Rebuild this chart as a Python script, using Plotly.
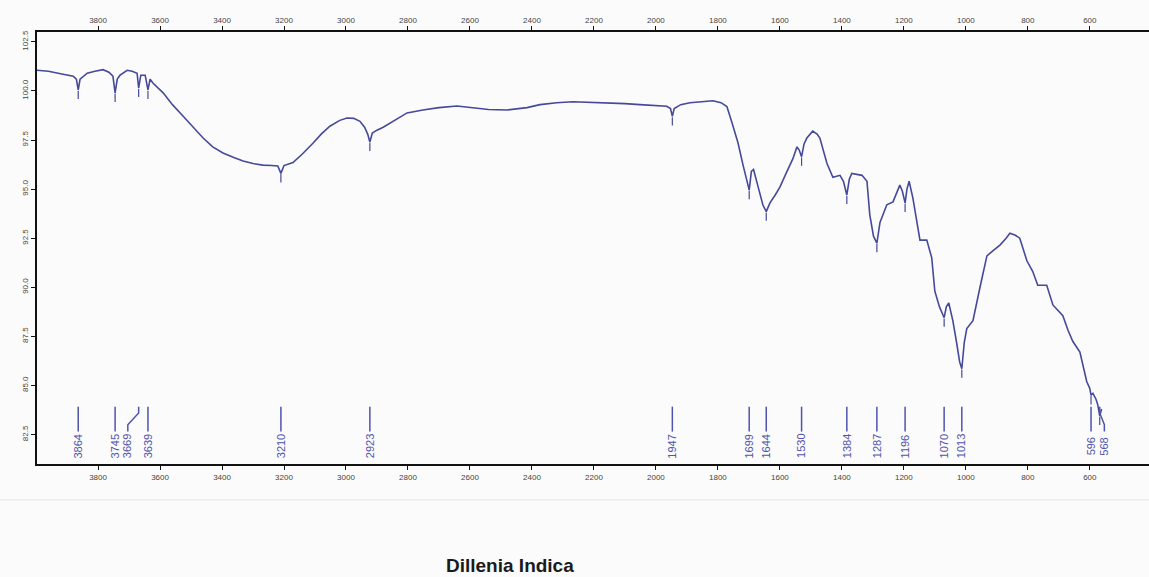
import numpy as np
import plotly.graph_objects as go

# ---------------- data ----------------
wavenumber = [3997, 3960, 3913, 3880, 3870, 3864, 3858, 3835, 3810, 3784, 3765, 3752, 3745, 3738,
              3729, 3706, 3690, 3674, 3669, 3662, 3648, 3639, 3632, 3623, 3590, 3560, 3526, 3490,
              3461, 3430, 3397, 3360, 3332, 3300, 3268, 3240, 3220, 3210, 3200, 3171, 3140, 3106,
              3080, 3052, 3020, 2997, 2975, 2955, 2940, 2930, 2923, 2915, 2900, 2880, 2858, 2830,
              2803, 2752, 2700, 2642, 2590, 2540, 2481, 2440, 2416, 2374, 2320, 2268, 2210, 2158,
              2100, 2052, 2000, 1965, 1953, 1947, 1941, 1920, 1890, 1850, 1816, 1790, 1771, 1755,
              1735, 1720, 1710, 1699, 1692, 1685, 1670, 1655, 1644, 1632, 1615, 1600, 1580, 1558,
              1545, 1538, 1530, 1522, 1513, 1494, 1480, 1471, 1448, 1429, 1406, 1395, 1384, 1376,
              1368, 1335, 1319, 1310, 1298, 1287, 1277, 1255, 1235, 1213, 1205, 1196, 1190, 1183,
              1171, 1160, 1148, 1126, 1110, 1100, 1085, 1070, 1063, 1055, 1042, 1030, 1020, 1013,
              1005, 997, 977, 955, 932, 913, 890, 870, 858, 840, 826, 803, 784, 768, 739, 719, 700,
              687, 670, 655, 632, 610, 600, 596, 590, 580, 574, 568, 562]
transmittance = [101.05, 101.0, 100.85, 100.75, 100.6, 100.05, 100.6, 100.9, 101.0, 101.08, 100.95,
                 100.75, 99.9, 100.6, 100.8, 101.05, 101.0, 100.9, 100.15, 100.8, 100.8, 100.05,
                 100.6, 100.4, 99.9, 99.3, 98.72, 98.1, 97.6, 97.15, 96.84, 96.6, 96.43, 96.3,
                 96.22, 96.2, 96.18, 95.8, 96.2, 96.35, 96.8, 97.35, 97.8, 98.2, 98.5, 98.62, 98.6,
                 98.45, 98.15, 97.8, 97.4, 97.85, 98.0, 98.15, 98.37, 98.65, 98.88, 99.03, 99.15,
                 99.23, 99.13, 99.05, 99.03, 99.1, 99.15, 99.3, 99.4, 99.45, 99.42, 99.4, 99.35,
                 99.3, 99.25, 99.22, 99.1, 98.7, 99.1, 99.3, 99.4, 99.45, 99.5, 99.4, 99.2, 98.4,
                 97.35, 96.3, 95.6, 94.95, 95.9, 96.0, 95.1, 94.2, 93.85, 94.3, 94.7, 95.1, 95.8,
                 96.55, 97.15, 97.0, 96.65, 97.3, 97.6, 97.95, 97.8, 97.6, 96.3, 95.6, 95.7, 95.4,
                 94.7, 95.5, 95.8, 95.7, 95.4, 93.7, 92.6, 92.25, 93.3, 94.2, 94.35, 95.2, 94.9,
                 94.3, 95.0, 95.4, 94.55, 93.4, 92.4, 92.4, 91.5, 89.8, 89.0, 88.45, 89.0, 89.2,
                 88.3, 87.2, 86.2, 85.85, 87.2, 87.9, 88.3, 89.95, 91.6, 91.85, 92.15, 92.5, 92.75,
                 92.65, 92.5, 91.35, 90.8, 90.1, 90.1, 89.1, 88.75, 88.55, 87.8, 87.25, 86.7, 85.2,
                 84.85, 84.5, 84.6, 84.3, 84.0, 83.45, 83.8]

peaks = [3864, 3745, 3669, 3639, 3210, 2923, 1947, 1699, 1644, 1530, 1384, 1287, 1196, 1070,
         1013, 596, 568]
peak_labels = [str(p) for p in peaks]

x_ticks = list(range(400, 4000, 200))
y_ticks = [82.5, 85.0, 87.5, 90.0, 92.5, 95.0, 97.5, 100.0, 102.5]

title_text = "Dillenia Indica"

# ---------------- styling ----------------
LINE = "#45499a"
LABEL = "#4f53ad"
X_RANGE = [3997, 409]
Y_RANGE = [81.0, 103.0]
label_shift = {3669: 35, 568: -15}   # label offsets (cm-1) for crowded labels

fig = go.Figure()

# spectrum
fig.add_trace(go.Scatter(x=wavenumber, y=transmittance, mode="lines",
                         line=dict(color=LINE, width=1.6), hoverinfo="skip", showlegend=False))

# small dip tick marks on the curve
wn_inc = np.array(wavenumber[::-1], dtype=float)
t_inc = np.array(transmittance[::-1], dtype=float)
dip_y = [float(np.interp(p, wn_inc, t_inc)) - 0.25 for p in peaks]
fig.add_trace(go.Scatter(x=peaks, y=dip_y, mode="markers",
                         marker=dict(symbol="line-ns-open", size=6, color=LINE,
                                     line=dict(color=LINE, width=1.2)),
                         hoverinfo="skip", showlegend=False))

# peak connector lines at the bottom
cx, cy = [], []
for p in peaks:
    s = label_shift.get(p, 0)
    if s:
        cx += [p, p, p + s, p + s, None]
        cy += [83.92, 83.6, 83.0, 82.65, None]
    else:
        cx += [p, p, None]
        cy += [83.92, 82.65, None]
fig.add_trace(go.Scatter(x=cx, y=cy, mode="lines", line=dict(color=LABEL, width=1.5),
                         hoverinfo="skip", showlegend=False))

# dummy trace for top axis
fig.add_trace(go.Scatter(x=[wavenumber[0]], y=[transmittance[0]], xaxis="x2", mode="markers",
                         marker=dict(opacity=0), hoverinfo="skip", showlegend=False))

annotations = []
for p, lab in zip(peaks, peak_labels):
    annotations.append(dict(x=p + label_shift.get(p, 0), y=81.9, xref="x", yref="y",
                            text=lab, textangle=-90, showarrow=False,
                            xanchor="center", yanchor="middle",
                            font=dict(family="Liberation Sans Narrow, Liberation Sans, Arial",
                                      size=11, color=LABEL)))
annotations.append(dict(x=0.425, y=-0.234, xref="paper", yref="paper",
                        text="<b>" + title_text + "</b>",
                        showarrow=False, xanchor="center", yanchor="middle",
                        font=dict(family="Liberation Sans, Arial", size=19, color="#1a1a1a")))

tickfont = dict(family="Liberation Sans, Arial", size=8, color="#444")
axis_common = dict(range=X_RANGE, tickvals=x_ticks, ticktext=[str(v) for v in x_ticks],
                   showgrid=False, zeroline=False, showline=True, linecolor="#111",
                   linewidth=2, ticks="outside", ticklen=4, tickcolor="#111",
                   tickfont=tickfont)

fig.update_layout(
    width=1149, height=577,
    margin=dict(l=37, r=0, t=32, b=113),
    paper_bgcolor="#fbfbfb", plot_bgcolor="#fbfbfb",
    xaxis=dict(**axis_common, side="bottom"),
    xaxis2=dict(**axis_common, side="top", overlaying="x", matches="x"),
    yaxis=dict(range=Y_RANGE, tickvals=y_ticks, ticktext=[f"{v:.1f}" for v in y_ticks],
               tickangle=-90, showgrid=False, zeroline=False, showline=True,
               linecolor="#111", linewidth=2, ticks="outside", ticklen=4,
               tickcolor="#111", tickfont=tickfont),
    annotations=annotations,
    shapes=[dict(type="line", xref="paper", yref="paper", x0=-0.04, x1=1.0,
                 y0=-0.083, y1=-0.083, line=dict(color="#e4e4e4", width=1))],
    showlegend=False,
)

fig.write_html("out.html")
